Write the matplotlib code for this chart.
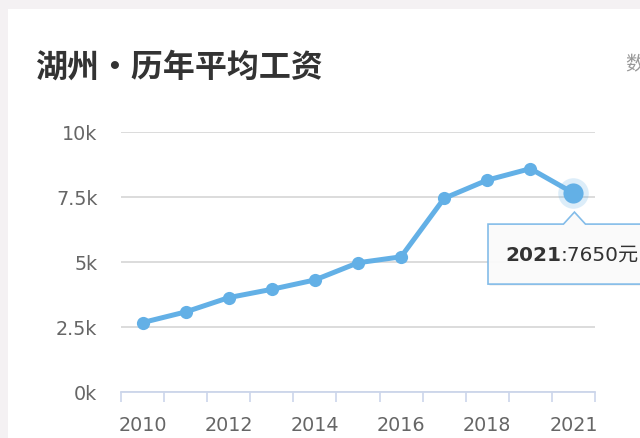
import matplotlib
matplotlib.use('Agg')
import matplotlib.pyplot as plt
from matplotlib.patches import Polygon, Rectangle
from matplotlib.ticker import FixedLocator, FixedFormatter
from matplotlib.transforms import IdentityTransform

plt.rcParams['font.family'] = ['DejaVu Sans', 'Noto Sans CJK SC']
CJK = ['Noto Sans CJK SC', 'DejaVu Sans']

# ---- data ----
years = ['2010', '2011', '2012', '2013', '2014', '2015', '2016', '2017', '2018', '2019', '2021']
wages = [2670, 3080, 3630, 3950, 4310, 4970, 5200, 7450, 8150, 8590, 7650]
y_ticks = [0, 2500, 5000, 7500, 10000]
y_tick_labels = ['0k', '2.5k', '5k', '7.5k', '10k']
label_every = 2
title = '湖州•历年平均工资'
source_text = '数据来源'
tooltip_index = 10
tooltip_unit = '元'

W, H = 640, 439
fig = plt.figure(figsize=(W / 100, H / 100), dpi=100)
fig.patch.set_facecolor('#f4f1f3')
fig.patches.append(Rectangle((8 / W, 0), 1, (H - 10) / H, transform=fig.transFigure,
                             facecolor='white', edgecolor='none', zorder=-5))

ax = fig.add_axes([121 / W, (H - 393) / H, 474 / W, 260 / H])
ax.set_facecolor('none')
n = len(years)
xs = list(range(n))
line_color = '#63b0e6'

ax.plot(xs, wages, color=line_color, lw=3.6, marker='o', ms=9.5,
        markeredgewidth=0, zorder=4, solid_capstyle='round')
# highlighted last point
ax.plot([xs[tooltip_index]], [wages[tooltip_index]], 'o', ms=22, color=line_color,
        alpha=0.22, markeredgewidth=0, zorder=5)
ax.plot([xs[tooltip_index]], [wages[tooltip_index]], 'o', ms=14.5, color=line_color,
        markeredgewidth=0, zorder=6)

ax.set_xlim(-0.5, n - 0.5)
ax.set_ylim(0, 10000)

ax.yaxis.set_major_locator(FixedLocator(y_ticks))
ax.yaxis.set_major_formatter(FixedFormatter(y_tick_labels))
ax.grid(axis='y', color='#d9d9d9', lw=1.3)
ax.set_axisbelow(True)

label_pos = xs[::label_every]
ax.xaxis.set_major_locator(FixedLocator(label_pos))
ax.xaxis.set_major_formatter(FixedFormatter(years[::label_every]))
ax.xaxis.set_minor_locator(FixedLocator([i - 0.5 for i in range(n + 1)]))

ax.tick_params(axis='x', which='major', length=0, pad=16.5, labelsize=13.8, labelcolor='#666666')
ax.tick_params(axis='x', which='minor', length=7.5, width=1.2, color='#ccd6eb', direction='out')
ax.tick_params(axis='y', length=0, pad=17, labelsize=13.8, labelcolor='#666666')

for s in ['top', 'right', 'left']:
    ax.spines[s].set_visible(False)
ax.spines['bottom'].set_color('#ccd6eb')
ax.spines['bottom'].set_linewidth(1.3)

# title and source
fig.text(35 / W, (H - 68) / H, title, fontsize=23, fontweight='bold', color='#333333',
         ha='left', va='center', family=CJK)
fig.text(625 / W, (H - 65) / H, source_text, fontsize=14, color='#999999',
         ha='left', va='center', family=CJK)

# tooltip
fig.canvas.draw()
px, py = ax.transData.transform((xs[tooltip_index], wages[tooltip_index]))
tip_y = py - 19
top = tip_y - 12
bottom = top - 60
left = 488
right = W + 40
tx = px + 1
pts = [(left, bottom), (left, top), (tx - 11, top), (tx, tip_y), (tx + 11, top),
       (right, top), (right, bottom)]
shadow = Polygon([(x + 1.5, y - 1.5) for x, y in pts], closed=True, transform=IdentityTransform(),
                 facecolor='#000000', alpha=0.08, edgecolor='none', zorder=8)
fig.patches.append(shadow)
box = Polygon(pts, closed=True, transform=IdentityTransform(), facecolor='#fbfbfb',
              edgecolor='#7db9e8', lw=1.2, alpha=0.95, zorder=9, joinstyle='miter')
fig.patches.append(box)

cy = (top + bottom) / 2
t1 = fig.text(505 / W, cy / H, years[tooltip_index], fontsize=14.5, fontweight='bold',
              color='#333333', ha='left', va='center', zorder=10)
fig.canvas.draw()
bb = t1.get_window_extent()
fig.text(bb.x1 / W, cy / H, ':' + str(wages[tooltip_index]) + tooltip_unit, fontsize=14.5,
         color='#333333', ha='left', va='center', zorder=10)

fig.savefig('out.png', dpi=100, facecolor=fig.get_facecolor())
